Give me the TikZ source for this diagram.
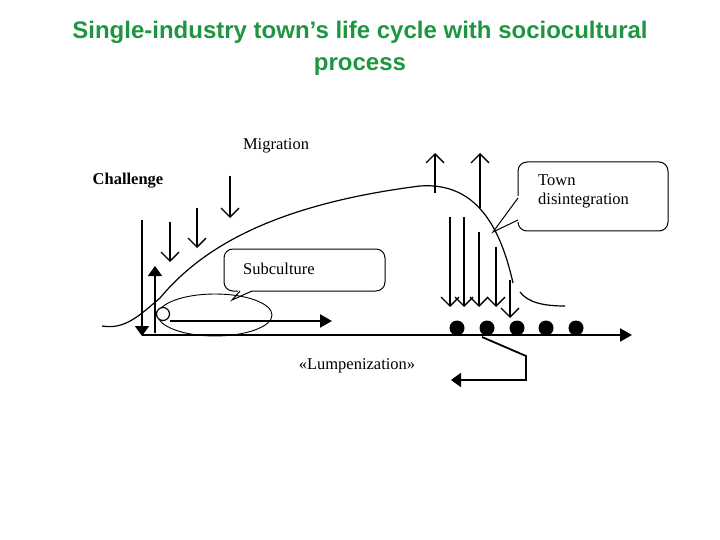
\documentclass[tikz,border=0pt]{standalone}
\usepackage{fontspec}
\setmainfont{Liberation Serif}
\newfontfamily\titlefont{Liberation Sans}
\usetikzlibrary{arrows.meta}
\definecolor{ttl}{RGB}{30,150,65}
\begin{document}
\begin{tikzpicture}[x=1pt,y=-1pt,
  lbl/.style={font=\fontsize{16.5}{19}\selectfont, inner sep=0},
  down/.style={-{Straight Barb[length=9pt,width=18pt]}, line width=1.3pt},
  thick arr/.style={-{Triangle[length=12pt,width=13pt]}, line width=2.2pt},
  call/.style={draw, fill=white, rounded corners=9pt, line width=1pt}]
\useasboundingbox (0,0) rectangle (720,540);
\node[font=\titlefont\bfseries\fontsize{24}{32}\selectfont, text=ttl, align=center] (title) at (360,48) {Single-industry town’s life cycle with sociocultural\\process};
\node[lbl] (mig) at (276,146) {Migration};
\node[lbl, font=\bfseries\fontsize{16.5}{19}\selectfont] (chal) at (128,181) {Challenge};
% axes
\coordinate (o) at (142,335); \coordinate (xe) at (632,335);
\draw[thick arr] (o) -- (xe);
\coordinate (vt) at (142,220);
\draw[-{Triangle[length=10pt,width=14pt]}, line width=1.8pt] (vt) -- (142,336);
\draw[-{Triangle[length=10pt,width=14pt]}, line width=1.8pt] (155,333) -- (155,266);
% ellipse and circle
\draw[line width=0.9pt] (215,315) ellipse [x radius=57, y radius=21];
\node[draw, circle, minimum size=13pt, inner sep=0, line width=1.2pt, fill=white] (c) at (163,314) {};
\coordinate (he) at (332,321);
\draw[thick arr] (c.east |- 0,321) -- (he);
% curve
\draw[line width=1.2pt] (102,326) .. controls (125,330) and (140,315) .. (160,298)
  .. controls (200,250) and (270,205) .. (420,186)
  .. controls (475,182) and (500,225) .. (513,283);
\draw[line width=1.2pt] (520,292) .. controls (528,303) and (545,306) .. (565,306);
% challenge arrows
\draw[down] (170,222) -- (170,262);
\draw[down] (197,208) -- (197,248);
\draw[down] (230,176) -- (230,218);
% up arrows
\draw[down] (435,193) -- (435,153);
\draw[down] (480,208) -- (480,153);
% disintegration arrows
\foreach \x/\t in {450/217, 464/217, 479/232, 496/247} \draw[down] (\x,\t) -- (\x,307);
\draw[down] (510,280) -- (510,318);
% dots
\foreach \x [count=\i] in {457,487,517,546,576} \node[circle, fill=black, minimum size=15pt, inner sep=0] (d\i) at (\x,328) {};
% lumpenization bracket arrow
\coordinate (b1) at (482,337); \coordinate (b2) at (526,356); \coordinate (b3) at (526,380); \coordinate (b4) at (451,380);
\draw[line width=1.8pt, -{Triangle[length=10pt,width=14pt]}] (b1) -- (b2) -- (b3) -- (b4);
\node[lbl] (lump) at (357,366) {«Lumpenization»};
% subculture callout
\draw[call] (224,249) rectangle (385,291);
\fill[white] (238,289) -- (252,289) -- (252,293) -- (238,293) -- cycle;
\draw[line width=1pt] (240,291) -- (232,300) -- (252,291);
\node[lbl, anchor=west] (sub) at (243,269) {Subculture};
% town callout
\draw[call] (518,162) rectangle (668,231);
\fill[white] (516,196) -- (520,196) -- (520,222) -- (516,222) -- cycle;
\draw[line width=1pt] (518,198) -- (493,232) -- (518,220);
\node[lbl, anchor=north west, align=left] (town) at (538,174) {Town\\disintegration};
\end{tikzpicture}
\end{document}
